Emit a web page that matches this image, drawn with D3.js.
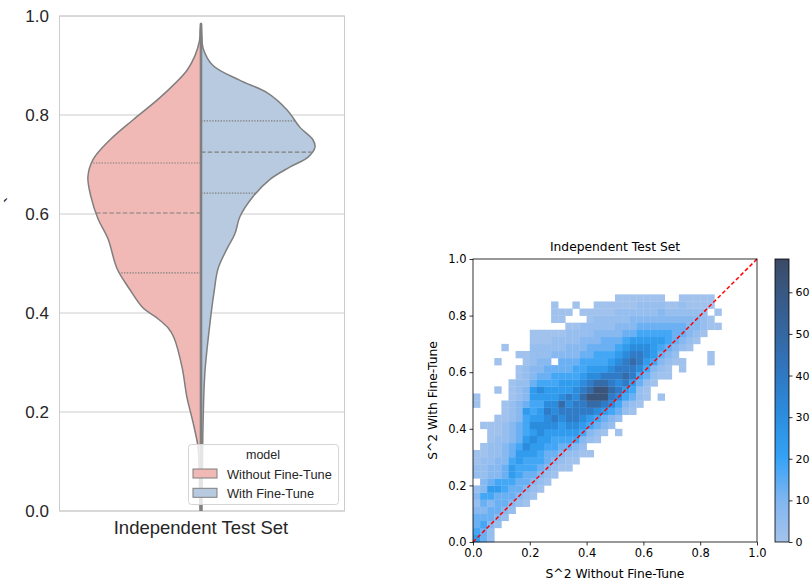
<!DOCTYPE html>
<html>
<head>
<meta charset="utf-8">
<script src="https://cdn.jsdelivr.net/npm/d3@7"></script>
<style>
  body { margin: 0; background: #fff; }
  svg { display: block; }
</style>
</head>
<body>
<div id="chart"></div>
<script>
// ---- violin data (left panel) ----
const groupName = 'Independent Test Set';
const models = ['Without Fine-Tune', 'With Fine-Tune'];
const modelColors = ['#f1b9b5', '#b8cadf'];
const violinTicks = [0, 0.2, 0.4, 0.6, 0.8, 1.0];

// KDE outline: [value, density]
const leftKde = [
  [-0.01, 0.02], [0.0, 0.03], [0.05, 0.05], [0.1, 0.07], [0.13, 0.1], [0.18, 0.27],
  [0.23, 0.47], [0.29, 0.63], [0.35, 0.9], [0.37, 1.1], [0.39, 1.47], [0.41, 1.93],
  [0.45, 2.4], [0.49, 2.8], [0.55, 3.1], [0.59, 3.43], [0.635, 3.67], [0.675, 3.77],
  [0.71, 3.6], [0.75, 3.03], [0.79, 2.27], [0.835, 1.37], [0.89, 0.47], [0.92, 0.2],
  [0.95, 0.05], [0.97, 0.03], [0.985, 0.01]
];
const rightKde = [
  [-0.01, 0.03], [0.0, 0.03], [0.1, 0.05], [0.18, 0.07], [0.28, 0.13], [0.38, 0.3],
  [0.44, 0.43], [0.49, 0.57], [0.53, 0.87], [0.56, 1.13], [0.595, 1.3], [0.635, 1.73],
  [0.67, 2.3], [0.695, 2.97], [0.715, 3.57], [0.735, 3.8], [0.75, 3.73], [0.775, 3.3],
  [0.81, 2.87], [0.845, 2.2], [0.87, 1.3], [0.9, 0.4], [0.935, 0.07], [0.96, 0.03],
  [0.985, 0.01]
];
const leftQuartiles = [0.481, 0.602, 0.703];
const rightQuartiles = [0.642, 0.725, 0.788];

// ---- 2d histogram data (right panel) ----
const binWidth = 0.025;
// one string per x bin, each char is a y bin starting at colStart[i]; '.' = empty
const colStart = [0, 0, 0, 2, 3, 4, 5, 5, 6, 7, 8, 9, 10, 10, 11, 12, 12, 14, 15, 16,
  15, 18, 18, 19, 20, 22, 20, 23, 25, 24, 27, 28, 29, 25, 30];
const colLevels = [
  '54332121.1100......00',
  '33432342211100..0',
  '11233245322111000',
  '1233354222111000...0...0',
  '12334433222111000.......0',
  '1233455433222111000',
  '12334455433322211100.0',
  '0123344565444532211100',
  '012344556565445532211100',
  '01234455665545643221100',
  '0123345566765543321100.',
  '0123445676655443.2110.000',
  '01234556786554332110.00',
  '001345677675543322110.0',
  '01245677766544322110..0',
  '0124567787654432211.0',
  '0.1245789876543321100',
  '01346899865443221100',
  '0235799875443321100',
  '124678776543321100',
  '0.134676776543221100',
  '12457877654321100',
  '01345778765322100',
  '0113467765432110',
  '001345665432110',
  '0124555432110',
  '0..012345432210',
  '00123443210',
  '012333210',
  '00.12332110',
  '01222100',
  '0122100',
  '011100',
  '00...00.00',
  '0.0'
];
const levelCounts = [1, 4, 8, 13, 18, 24, 31, 39, 48, 62];
const heatTicks = [0, 0.2, 0.4, 0.6, 0.8, 1.0];
const cbarTicks = [0, 10, 20, 30, 40, 50, 60];
const cbarMax = 68;

const svg = d3.select('#chart')
  .append('svg')
  .attr('width', 812)
  .attr('height', 584);

// =========== left: split violin ===========
const vp = { left: 59.5, right: 344.5, top: 16, bottom: 511 };
const cx = 201;
const vy = d3.scaleLinear().domain([0, 1]).range([vp.bottom, vp.top]);
const wScale = d3.scaleLinear().domain([0, 3.8]).range([0, 114]);
const sansL = 'Liberation Sans, Arial, sans-serif';

svg.append('clipPath').attr('id', 'vclip')
  .append('rect')
  .attr('x', vp.left).attr('y', vp.top)
  .attr('width', vp.right - vp.left).attr('height', vp.bottom - vp.top);

svg.append('g')
  .selectAll('line')
  .data(violinTicks)
  .join('line')
  .attr('x1', vp.left).attr('x2', vp.right)
  .attr('y1', d => vy(d)).attr('y2', d => vy(d))
  .attr('stroke', '#cccccc')
  .attr('stroke-width', 1);

svg.append('rect')
  .attr('x', vp.left).attr('y', vp.top)
  .attr('width', vp.right - vp.left).attr('height', vp.bottom - vp.top)
  .attr('fill', 'none')
  .attr('stroke', '#cccccc');

svg.append('g')
  .selectAll('text')
  .data(violinTicks)
  .join('text')
  .attr('x', 49).attr('y', d => vy(d))
  .attr('text-anchor', 'end')
  .attr('dominant-baseline', 'central')
  .attr('font-family', sansL)
  .attr('font-size', 17)
  .attr('fill', '#262626')
  .text(d => d.toFixed(1));

svg.append('text')
  .attr('x', 201).attr('y', 534)
  .attr('text-anchor', 'middle')
  .attr('font-family', sansL)
  .attr('font-size', 18.5)
  .attr('fill', '#262626')
  .text(groupName);

svg.append('text')
  .attr('transform', 'translate(19,200) rotate(-90)')
  .attr('text-anchor', 'middle')
  .attr('font-family', sansL)
  .attr('font-size', 20)
  .attr('fill', '#262626')
  .text('`');

const vg = svg.append('g').attr('clip-path', 'url(#vclip)');

const halfArea = side => d3.area()
  .curve(d3.curveCatmullRom)
  .y(d => vy(d[0]))
  .x0(cx)
  .x1(d => cx + side * wScale(d[1]));

const widthAt = (kde, v) => {
  const i = d3.bisector(d => d[0]).left(kde, v);
  const a = kde[i - 1], b = kde[i];
  const t = (v - a[0]) / (b[0] - a[0]);
  return wScale(a[1] + t * (b[1] - a[1]));
};

[[leftKde, -1, modelColors[0], leftQuartiles], [rightKde, 1, modelColors[1], rightQuartiles]]
  .forEach(([kde, side, color, qs]) => {
    vg.append('path')
      .attr('d', halfArea(side)(kde))
      .attr('fill', color)
      .attr('stroke', '#7f7f7f')
      .attr('stroke-width', 1.5)
      .attr('stroke-linejoin', 'round');

    vg.selectAll(null)
      .data(qs)
      .join('line')
      .attr('x1', cx)
      .attr('x2', d => cx + side * widthAt(kde, d))
      .attr('y1', d => vy(d)).attr('y2', d => vy(d))
      .attr('stroke', '#7f7f7f')
      .attr('stroke-width', 1.2)
      .attr('stroke-dasharray', (d, i) => i === 1 ? '4.5,2.2' : '1.4,1.4');
  });

vg.append('line')
  .attr('x1', cx).attr('x2', cx)
  .attr('y1', vy(0.985)).attr('y2', vy(-0.02))
  .attr('stroke', '#7f7f7f')
  .attr('stroke-width', 2.6);

// legend
const lg = svg.append('g');
lg.append('rect')
  .attr('x', 188.5).attr('y', 444.5)
  .attr('width', 150).attr('height', 60)
  .attr('rx', 3)
  .attr('fill', '#fff').attr('fill-opacity', 0.8)
  .attr('stroke', '#d5d5d5');
lg.append('text')
  .attr('x', 263).attr('y', 455)
  .attr('text-anchor', 'middle')
  .attr('dominant-baseline', 'central')
  .attr('font-family', sansL)
  .attr('font-size', 12.5)
  .attr('fill', '#262626')
  .text('model');
models.forEach((m, i) => {
  lg.append('rect')
    .attr('x', 193).attr('y', 469 + i * 19.3)
    .attr('width', 24).attr('height', 9)
    .attr('fill', modelColors[i])
    .attr('stroke', '#7f7f7f')
    .attr('stroke-width', 1);
  lg.append('text')
    .attr('x', 227).attr('y', 474 + i * 19.3)
    .attr('dominant-baseline', 'central')
    .attr('font-family', sansL)
    .attr('font-size', 12.8)
    .attr('fill', '#262626')
    .text(m);
});

// =========== right: 2d histogram ===========
const hp = { left: 473, right: 757, top: 259, bottom: 542 };
const hx = d3.scaleLinear().domain([0, 1]).range([hp.left, hp.right]);
const hy = d3.scaleLinear().domain([0, 1]).range([hp.bottom, hp.top]);
const sansD = 'DejaVu Sans, sans-serif';

const color = d3.scaleLinear()
  .domain([0, 10, 20, 30, 40, 50, 60, 68])
  .range(['#a5c3ec', '#80b6f1', '#35a3f6', '#2b8ee0', '#2f79c4', '#3567a2', '#395883', '#3b4a65'])
  .clamp(true);

const cells = [];
colLevels.forEach((s, i) => {
  s.split('').forEach((ch, k) => {
    if (ch === '.') return;
    cells.push({ xi: i, yi: colStart[i] + k, count: levelCounts[+ch] });
  });
});

svg.append('g')
  .selectAll('rect')
  .data(cells)
  .join('rect')
  .attr('x', d => hx(d.xi * binWidth))
  .attr('y', d => hy((d.yi + 1) * binWidth))
  .attr('width', hx(binWidth) - hx(0) + 0.3)
  .attr('height', hy(0) - hy(binWidth) + 0.3)
  .attr('fill', d => color(d.count));

svg.append('line')
  .attr('x1', hx(0)).attr('y1', hy(0))
  .attr('x2', hx(1)).attr('y2', hy(1))
  .attr('stroke', '#ff0000')
  .attr('stroke-width', 1.5)
  .attr('stroke-dasharray', '4,2.4');

const xAxis = d3.axisBottom(hx)
  .tickValues(heatTicks)
  .tickFormat(d3.format('.1f'))
  .tickSize(3.5)
  .tickPadding(3);
const xAxisGroup = svg.append('g')
  .attr('transform', `translate(0, ${hp.bottom})`)
  .call(xAxis);

const yAxis = d3.axisLeft(hy)
  .tickValues(heatTicks)
  .tickFormat(d3.format('.1f'))
  .tickSize(3.5)
  .tickPadding(3);
const yAxisGroup = svg.append('g')
  .attr('transform', `translate(${hp.left}, 0)`)
  .call(yAxis);

[xAxisGroup, yAxisGroup].forEach(g => {
  g.select('.domain').remove();
  g.selectAll('line').attr('stroke', '#000').attr('stroke-width', 0.8);
  g.selectAll('text')
    .attr('font-family', sansD)
    .attr('font-size', 11.5)
    .attr('fill', '#000');
});

svg.append('rect')
  .attr('x', hp.left).attr('y', hp.top)
  .attr('width', hp.right - hp.left).attr('height', hp.bottom - hp.top)
  .attr('fill', 'none')
  .attr('stroke', '#000')
  .attr('stroke-width', 0.8);

svg.append('text')
  .attr('x', (hp.left + hp.right) / 2).attr('y', 250.5)
  .attr('text-anchor', 'middle')
  .attr('font-family', sansD)
  .attr('font-size', 12.3)
  .text('Independent Test Set');

svg.append('text')
  .attr('x', (hp.left + hp.right) / 2).attr('y', 578)
  .attr('text-anchor', 'middle')
  .attr('font-family', sansD)
  .attr('font-size', 12.3)
  .text('S^2 Without Fine-Tune');

svg.append('text')
  .attr('transform', `translate(437, ${(hp.top + hp.bottom) / 2}) rotate(-90)`)
  .attr('text-anchor', 'middle')
  .attr('font-family', sansD)
  .attr('font-size', 12.3)
  .text('S^2 With Fine-Tune');

// colorbar
const cb = { left: 775, width: 14 };
const cy = d3.scaleLinear().domain([0, cbarMax]).range([hp.bottom, hp.top]);
const grad = svg.append('defs').append('linearGradient')
  .attr('id', 'cbar')
  .attr('x1', 0).attr('y1', 1).attr('x2', 0).attr('y2', 0);
grad.selectAll('stop')
  .data(d3.range(0, 1.0001, 0.05))
  .join('stop')
  .attr('offset', d => d)
  .attr('stop-color', d => color(d * cbarMax));

svg.append('rect')
  .attr('x', cb.left).attr('y', hp.top)
  .attr('width', cb.width).attr('height', hp.bottom - hp.top)
  .attr('fill', 'url(#cbar)')
  .attr('stroke', '#000')
  .attr('stroke-width', 0.8);

const cAxisGroup = svg.append('g')
  .attr('transform', `translate(${cb.left + cb.width}, 0)`)
  .call(d3.axisRight(cy).tickValues(cbarTicks).tickSize(3.5).tickPadding(3));
cAxisGroup.select('.domain').remove();
cAxisGroup.selectAll('line').attr('stroke', '#000').attr('stroke-width', 0.8);
cAxisGroup.selectAll('text')
  .attr('font-family', sansD)
  .attr('font-size', 11)
  .attr('fill', '#000');
</script>
</body>
</html>
